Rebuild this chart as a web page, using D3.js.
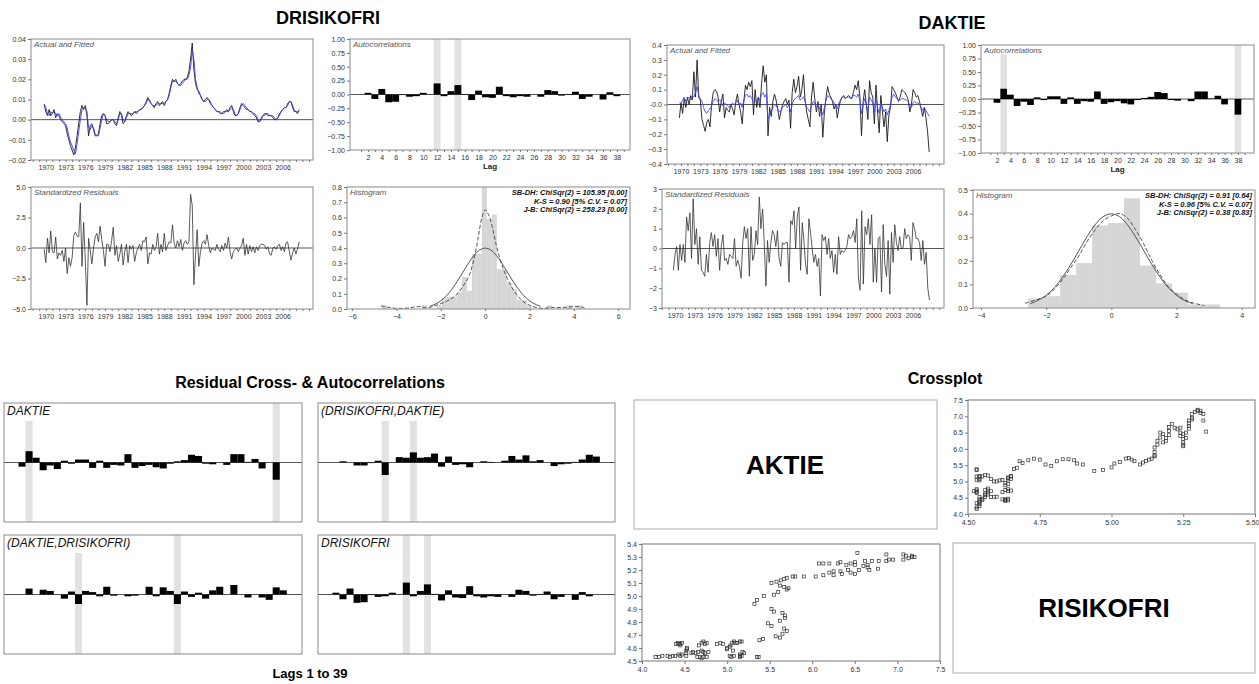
<!DOCTYPE html>
<html>
<head>
<meta charset="utf-8">
<script src="https://cdn.jsdelivr.net/npm/d3@7"></script>
<style>
  body { margin: 0; background: #fff; }
</style>
</head>
<body>
<svg width="1259" height="684"></svg>
<script>
// ---- data (quarterly, first obs 1969Q4) ----
const quarterStart = 1969.75;

const drisActual = [.0075,
  .004,.002,.005,.002, .003,.005,.001,.003, .002,.000,-.001,-.002, -.003,-.007,-.010,-.013,
  -.015,-.0175,-.014,-.008, -.002,.004,.007,.005, .007,.002,-.008,-.003, -.002,-.005,-.008,-.008,
  -.007,-.002,.002,.003, .002,-.002,-.002,-.001, .000,.000,-.002,-.003, .001,.004,.002,-.002,
  -.001,.002,.004,.003, .002,.003,.004,.003, .004,.005,.005,.006, .007,.009,.011,.009,
  .008,.007,.006,.008, .009,.007,.008,.009, .007,.009,.010,.013, .017,.020,.019,.020,
  .018,.017,.018,.019, .020,.020,.021,.024, .030,.038,.025,.018, .015,.014,.012,.010,
  .009,.010,.011,.010, .008,.007,.006,.005, .004,.004,.003,.003, .004,.004,.005,.004,
  .006,.007,.004,.002, .002,.003,.006,.008, .007,.006,.005,.005, .004,.004,.003,.002,
  .001,-.001,-.001,.001, .002,.003,.003,.002, .002,.002,.001,.000, .000,.001,.003,.004,
  .005,.006,.006,.008, .009,.009,.006,.004, .004,.003,.005];

const drisFitted = [.0078,
  .006,.003,.002,.004, .003,.004,.003,.002, .003,.001,.000,-.001, -.002,-.004,-.008,-.011,
  -.013,-.015,-.017,-.012, -.006,.000,.005,.006, .006,.004,-.004,-.005, -.003,-.004,-.007,-.008,
  -.008,-.004,.000,.003, .002,.000,-.001,-.001, .000,.000,-.001,-.002, .000,.003,.003,.000,
  -.001,.001,.003,.003, .003,.003,.004,.004, .004,.005,.005,.006, .007,.008,.010,.010,
  .008,.007,.007,.007, .008,.008,.008,.008, .008,.009,.010,.012, .016,.019,.019,.019,
  .018,.017,.017,.018, .019,.020,.020,.022, .026,.034,.030,.020, .016,.013,.012,.010,
  .009,.009,.010,.010, .009,.007,.006,.005, .004,.004,.004,.003, .003,.004,.004,.004,
  .005,.006,.005,.003, .002,.003,.005,.007, .008,.007,.006,.005, .004,.004,.003,.003,
  .002,.000,-.001,.000, .002,.002,.003,.003, .002,.002,.002,.001, .000,.001,.002,.004,
  .005,.006,.006,.007, .009,.009,.007,.005, .004,.004,.004];

const drisResid = [-0.1,
  -1.2,0.8,-0.4,1.4, -0.3,-0.4,0.9,-0.9, -0.4,-0.6,-0.2,-1.1, 0.0,-2.1,-0.8,-1.5,
  -0.8,1.0,1.3,1.0, 0.9,3.7,-1.5,2.1, -1.0,-4.7,0.8,-0.2, -1.3,0.0,0.9,1.2,
  0.5,1.8,0.7,-0.2, -1.5,0.3,0.3,-0.3, 0.6,1.7,-0.6,0.2, -1.1,-0.5,0.3,-1.4,
  -0.3,0.3,-1.2,0.2, -0.1,0.2,-1.1,-0.4, 0.0,0.3,-0.2,0.6, 0.5,0.9,-1.3,-0.4,
  -0.5,0.3,-0.2,0.1, 1.2,-0.5,0.3,-0.3, 1.2,-0.2,0.2,0.5, 0.4,1.9,0.4,0.0,
  0.6,0.1,0.7,-0.2, 0.4,0.6,0.3,0.5, 4.4,3.5,-3.0,-0.6, 1.5,-1.5,-0.3,0.4,
  0.6,0.3,1.1,0.2, -0.4,0.0,-0.1,-0.2, 0.3,-0.1,-0.3,0.2, -0.2,0.4,0.0,0.9,
  -0.3,-0.9,-0.3,-0.1, 0.0,-0.3,0.0,0.2, 0.8,-0.6,0.3,-0.5, 0.2,-0.3,0.1,-0.4,
  0.1,-0.2,0.2,0.3, 0.3,0.2,-0.1,0.1, -0.5,-0.6,0.0,0.1, -0.1,0.2,0.3,-0.2,
  0.1,-0.3,0.4,0.5, -0.3,-1.0,-0.4,0.0, -0.5,-0.1,0.5];

const daktieActual = [-0.09,
  0.01,-0.06,0.04,-0.02, 0.05,0.00,0.06,0.03, 0.22,0.05,0.30,0.05, 0.03,-0.10,-0.14,-0.18,
  -0.12,-0.10,-0.15,0.00, 0.08,0.10,0.09,0.05, -0.05,0.02,0.07,-0.09, -0.02,-0.04,-0.05,0.00,
  -0.03,-0.07,0.02,0.07, 0.00,-0.05,-0.13,0.02, 0.13,0.10,0.15,0.12, 0.16,-0.07,0.10,-0.02,
  0.05,-0.02,0.14,0.26, 0.15,0.20,-0.21,-0.02, -0.08,0.02,0.07,0.03, -0.03,-0.10,-0.05,0.00,
  0.02,0.04,0.00,0.03, -0.16,0.08,0.17,0.08, 0.12,0.19,0.05,0.10, 0.20,0.03,-0.05,-0.10,
  -0.15,0.05,0.15,0.04, -0.05,0.02,-0.08,0.00, -0.22,-0.05,0.05,0.12, 0.07,0.05,0.02,-0.03,
  0.00,-0.09,-0.02,0.03, 0.05,0.06,0.04,0.05, 0.06,0.05,0.04,0.08, 0.13,0.10,0.16,0.05,
  -0.21,0.02,0.10,0.00, -0.10,0.16,0.08,0.05, -0.13,0.13,-0.05,-0.19, 0.06,-0.05,-0.15,-0.05,
  -0.25,-0.07,-0.02,0.12, 0.10,0.08,0.05,0.02, 0.05,0.10,0.09,0.08, 0.06,0.03,-0.05,0.00,
  0.10,0.08,0.05,0.06, 0.02,-0.03,-0.08,-0.02, -0.09,-0.18,-0.32];

const daktieFitted = [0.01,
  0.01,0.03,0.05,0.02, 0.04,0.05,0.03,0.06, 0.05,0.08,0.12,0.06, 0.04,0.02,-0.02,-0.05,
  -0.06,-0.04,-0.03,-0.01, 0.02,0.04,0.03,0.02, 0.03,0.02,-0.01,0.01, 0.00,-0.01,-0.02,0.00,
  0.01,0.00,0.01,0.03, 0.00,0.01,-0.02,0.03, 0.06,0.07,0.05,0.06, 0.04,0.01,0.03,0.02,
  0.05,0.03,0.07,0.08, 0.05,0.07,-0.10,-0.07, -0.05,-0.02,-0.01,0.00, -0.03,-0.05,-0.04,-0.02,
  -0.01,0.00,-0.02,0.00, -0.05,0.00,0.03,0.04, 0.05,0.06,0.03,0.04, 0.05,0.02,-0.02,-0.03,
  -0.05,-0.01,0.02,0.01, -0.02,0.00,-0.03,-0.04, -0.07,-0.02,0.03,0.06, 0.05,0.04,0.03,0.01,
  0.00,-0.03,0.01,0.03, 0.05,0.05,0.04,0.05, 0.05,0.04,0.05,0.06, 0.06,0.05,0.07,0.03,
  -0.06,-0.01,0.04,0.00, -0.04,0.05,0.03,0.01, -0.05,0.04,-0.02,-0.06, 0.01,-0.02,-0.05,-0.03,
  -0.07,-0.04,0.00,0.05, 0.07,0.05,0.04,0.03, 0.03,0.04,0.04,0.03, 0.03,0.02,-0.01,-0.02,
  0.01,0.02,0.01,0.01, 0.00,-0.02,-0.04,-0.02, -0.04,-0.06,-0.08];

const daktieResid = [-1.1,
  -0.3,0.1,-1.1,0.2, -0.6,0.2,-0.7,1.6, 0.9,1.8,-0.5,2.5, 0.2,1.0,-0.8,0.6,
  -1.1,-1.2,-1.4,-0.3, -1.2,0.3,0.8,0.1, 0.7,-0.4,0.5,-1.1, 0.1,0.7,-0.6,-0.5,
  -0.8,-0.3,-0.4,-0.5, 0.5,-0.9,-0.6,-0.9, -1.5,0.3,1.1,0.5, 1.0,-1.4,1.1,-0.6,
  -0.3,0.9,0.2,2.6, 1.0,2.0,0.3,-1.9, 0.4,-0.7,0.3,0.9, 0.7,0.1,0.9,-0.5,
  -0.9,0.3,0.2,0.3, 0.3,-1.7,1.4,1.2, 1.9,0.0,1.6,2.1, -1.1,1.3,0.4,-0.8,
  -1.3,1.5,0.8,0.0, -0.7,-0.3,-0.9,-0.5, -2.4,0.7,0.4,0.6, -0.3,0.5,-0.5,-0.1,
  -1.2,-0.3,-1.3,0.6, -0.3,-0.1,-0.2,-0.1, 0.1,0.7,0.5,0.6, 0.9,0.3,1.5,-1.5,
  -2.1,1.9,-1.8,1.1, 0.7,1.5,0.2,1.7, -1.7,0.0,-1.7,0.5, 0.6,-2.2,1.2,-0.8,
  -1.4,0.4,-2.3,0.8, -0.7,1.2,0.3,-0.1, 0.6,0.0,0.0,1.0, 0.5,0.7,0.6,-0.6,
  1.3,1.0,0.5,0.5, 0.3,-0.6,0.4,-0.8, -0.2,-2.0,-2.6];

// residual autocorrelations, lags 2..38
const acfLags = d3.range(2, 39);
const drisAcf = [0.03,-0.08,0.10,-0.14,-0.13,-0.01,-0.04,-0.03,0.03,0.00,0.20,-0.03,0.06,0.17,0.01,
  -0.10,0.07,-0.05,-0.06,0.14,-0.03,-0.05,-0.03,-0.04,0.00,-0.04,0.08,0.06,-0.02,0.01,0.05,
  -0.08,-0.04,0.00,-0.09,0.04,-0.03];
const daktieAcf = [-0.07,0.19,0.08,-0.13,-0.05,-0.11,0.03,-0.02,0.05,0.05,-0.09,0.03,-0.09,-0.04,-0.05,
  0.14,-0.09,-0.06,-0.04,-0.08,-0.10,-0.02,0.02,0.04,0.13,0.11,-0.02,-0.03,0.00,-0.04,0.14,
  0.14,0.01,0.06,-0.10,0.00,-0.29];
const drisAcfBands = [12, 15];
const daktieAcfBands = [3, 38];

// cross-correlations, lags 1..39
const crossLags = d3.range(1, 40);
const crossDrisDaktie = [0,0,0.02,0.00,-0.05,-0.05,-0.01,0.03,-0.21,0.00,0.09,0.08,0.17,0.08,0.09,
  0.15,-0.07,0.10,-0.04,-0.03,-0.08,0.00,0.02,0.01,0.00,0.03,0.11,0.05,0.12,0.02,0.04,0.00,
  -0.06,-0.03,-0.02,0.01,0.05,0.13,0.10];
const crossDaktieDris = [0,0,0.10,0.00,0.08,0.06,0.00,-0.07,0.05,-0.16,0.06,0.04,-0.03,0.13,-0.02,
  0.00,-0.03,-0.02,0.00,0.13,-0.03,0.12,0.06,-0.16,0.05,-0.04,0.03,-0.07,0.07,0.13,0.00,0.16,
  0.00,-0.05,0.00,-0.05,-0.09,0.12,0.07];
const crossDrisDaktieBands = [9, 13];
const crossDaktieDrisBands = [10, 24];

// histograms of standardized residuals
const drisBinStart = -4.65, drisBinWidth = 0.225;
const drisHist = [.025,0,0,0,0,0,0,0,.025,0,0,.025,.07,.08,.08,.11,.21,.12,.36,.36,.80,.59,.62,.26,
  .26,.17,.13,.06,.06,.02,0,0,0,.025,0,0,0,.025,0,.025];
const daktieBinStart = -2.55, daktieBinWidth = 0.49;
const daktieHist = [0.04,0.05,0.14,0.19,0.35,0.36,0.465,0.18,0.105,0.065,0.015,0.015];

const normalX = [-2.5,-2.25,-2,-1.75,-1.5,-1.25,-1,-0.75,-0.5,-0.25,0,0.25,0.5,0.75,1,1.25,1.5,1.75,2,2.25,2.5];
const normalY = [.018,.032,.054,.086,.130,.183,.242,.301,.352,.387,.399,.387,.352,.301,.242,.183,.130,.086,.054,.032,.018];

const drisKdeX = [-4.7,-4.4,-4.0,-3.5,-3.0,-2.6,-2.3,-2.0,-1.75,-1.5,-1.25,-1.0,-0.75,-0.5,-0.3,-0.15,0.0,0.15,0.3,0.45,0.6,0.8,1.0,1.25,1.5,1.75,2.0,2.3,2.6,3.0,3.5,4.0,4.3,4.5];
const drisKdeY = [0.02,0.012,0.004,0.006,0.016,0.008,0.02,0.035,0.05,0.07,0.1,0.15,0.21,0.33,0.48,0.6,0.65,0.62,0.55,0.45,0.36,0.27,0.2,0.13,0.08,0.045,0.025,0.01,0.004,0.01,0.01,0.015,0.015,0.006];
const daktieKdeX = [-2.65,-2.3,-2.0,-1.75,-1.5,-1.25,-1.0,-0.75,-0.5,-0.25,0,0.25,0.5,0.75,1.0,1.25,1.5,1.75,2.0,2.25,2.5,2.85];
const daktieKdeY = [0.02,0.035,0.05,0.08,0.12,0.17,0.22,0.28,0.33,0.37,0.39,0.40,0.38,0.33,0.27,0.2,0.14,0.09,0.06,0.035,0.022,0.01];

const drisStats = ["SB-DH: ChiSqr(2) = 105.95 [0.00]", "K-S = 0.90 [5% C.V. = 0.07]", "J-B: ChiSqr(2) = 258.23 [0.00]"];
const daktieStats = ["SB-DH: ChiSqr(2) = 0.91 [0.64]", "K-S = 0.96 [5% C.V. = 0.07]", "J-B: ChiSqr(2) = 0.38 [0.83]"];

// crossplot of levels
const xpAktie = [4.24,4.36,4.39,4.43,4.45,4.47,4.52,4.52,4.52,4.53,4.53,4.16,4.20,4.30,4.33,
  4.40,4.42,4.43,4.45,4.47,4.45,
  4.58,4.60,4.63,4.65,4.66,4.68,4.70,4.72,4.70,4.72,4.74,4.76,4.78,
  4.67,4.70,4.74,4.76,4.72,
  4.88,4.92,4.95,5.00,5.00,5.03,5.04,5.06,5.08,5.10,5.12,5.15,5.17,
  5.03,5.05,5.08,5.07,5.15,5.15,5.15,5.18,5.20,5.17,
  5.35,5.37,5.38,5.42,
  5.52,5.55,5.48,5.52,5.62,5.65,5.68,5.68,5.57,5.62,5.65,5.67,5.70,
  5.32,5.35,5.43,5.52,5.55,5.58,5.60,5.62,5.63,5.67,5.67,5.70,5.72,5.70,5.77,5.80,5.90,6.04,6.13,
  6.08,6.13,6.20,6.20,6.25,6.25,6.30,6.33,6.33,6.35,6.40,6.42,6.45,6.45,6.50,6.50,6.53,6.50,6.55,
  6.60,6.62,6.65,6.65,6.67,6.70,6.77,6.78,6.87,6.87,6.90,6.95,7.07,7.07,7.10,7.13,7.17,7.17,7.20];
const xpRisk = [4.54,4.54,4.54,4.55,4.54,4.55,4.54,4.56,4.58,4.60,4.59,4.53,4.53,4.54,4.53,
  4.63,4.64,4.63,4.63,4.64,4.62,
  4.56,4.57,4.56,4.53,4.57,4.53,4.52,4.53,4.58,4.57,4.56,4.53,4.57,
  4.62,4.64,4.63,4.64,4.65,
  4.63,4.64,4.63,4.60,4.59,4.61,4.62,4.64,4.65,4.64,4.64,4.65,4.65,
  4.54,4.53,4.54,4.58,4.53,4.54,4.55,4.57,4.56,4.54,
  4.53,4.53,4.66,4.67,
  4.90,4.88,4.79,4.77,4.81,4.87,4.85,4.83,4.69,4.68,4.71,4.75,4.73,
  4.94,4.97,5.00,5.10,5.01,5.11,5.03,5.08,5.12,5.07,5.13,5.05,5.06,5.14,5.15,5.15,5.15,5.15,5.16,
  5.25,5.25,5.18,5.25,5.19,5.16,5.25,5.26,5.19,5.17,5.24,5.20,5.25,5.18,5.24,5.17,5.33,5.26,5.20,
  5.23,5.27,5.22,5.24,5.20,5.27,5.21,5.27,5.32,5.27,5.28,5.28,5.32,5.28,5.31,5.29,5.30,5.31,5.30];

// ---- drawing ----
const FONT = '"Liberation Sans", Arial, Helvetica, sans-serif';
const svg = d3.select("svg").attr("font-family", FONT);
const quarters = drisActual.map((d, i) => quarterStart + i / 4);

function styleAxis(g) {
  g.attr("font-size", 7).attr("font-family", FONT);
  g.select(".domain").remove();
  g.selectAll("line").attr("stroke", "#777");
  g.selectAll("text").attr("fill", "#333");
}

function frame(p, color) {
  svg.append("rect")
    .attr("x", p.x0).attr("y", p.y0)
    .attr("width", p.x1 - p.x0).attr("height", p.y1 - p.y0)
    .attr("fill", "none").attr("stroke", color || "#8a8a8a").attr("stroke-width", 1);
}

// label with a white background, so bands stop underneath it
function panelLabel(x, y, str, size, bgBottom) {
  const t = svg.append("text")
    .attr("x", x).attr("y", y)
    .attr("font-size", size).attr("font-style", "italic")
    .attr("fill", size > 10 ? "#111" : "#555")
    .text(str);
  const b = t.node().getBBox();
  svg.insert("rect", () => t.node())
    .attr("x", b.x - 1).attr("y", b.y - 1)
    .attr("width", b.width + 3).attr("height", bgBottom - b.y + 1)
    .attr("fill", "#fff");
}

function yAxis(p, y, ticks, fmt) {
  svg.append("g")
    .attr("transform", `translate(${p.x0},0)`)
    .call(d3.axisLeft(y).tickValues(ticks).tickSize(3).tickPadding(2).tickFormat(fmt))
    .call(styleAxis);
}

function timePanel(p) {
  const x = d3.scaleLinear().domain(p.xd).range([p.x0, p.x1]);
  const y = d3.scaleLinear().domain(p.yd).range([p.y1, p.y0]);
  panelLabel(p.x0 + 3, p.y0 + 8, p.title, 8, p.y0 + 9);
  svg.append("line")
    .attr("x1", p.x0).attr("x2", p.x1).attr("y1", y(0)).attr("y2", y(0))
    .attr("stroke", "#555");
  const line = d3.line().x((d, i) => x(quarters[i])).y(d => y(d));
  p.series.forEach(s => {
    svg.append("path").datum(s.values)
      .attr("d", line).attr("fill", "none")
      .attr("stroke", s.color).attr("stroke-width", s.width || 0.9);
  });
  frame(p);
  yAxis(p, y, p.yTicks, p.yFmt);
  svg.append("g")
    .attr("transform", `translate(0,${p.y1})`)
    .call(d3.axisBottom(x).tickValues(d3.range(1968, 2011)).tickSize(2).tickPadding(3)
      .tickFormat(d => (d >= 1970 && d <= 2006 && (d - 1970) % 3 === 0) ? d : ""))
    .call(styleAxis);
}

function barPanel(p) {
  const x = d3.scaleLinear().domain(p.xd).range([p.x0, p.x1]);
  const y = d3.scaleLinear().domain([-1, 1]).range([p.y1, p.y0]);
  svg.append("g").selectAll("rect").data(p.bands).join("rect")
    .attr("x", d => x(d - 0.5)).attr("width", d => x(d + 0.5) - x(d - 0.5))
    .attr("y", p.y0).attr("height", p.y1 - p.y0)
    .attr("fill", "#e2e2e2");
  panelLabel(p.x0 + 3, p.y0 + p.labelSize, p.title, p.labelSize, p.y0 + p.labelSize + (p.axes ? 1 : 6));
  svg.append("line")
    .attr("x1", p.x0).attr("x2", p.x1).attr("y1", y(0)).attr("y2", y(0))
    .attr("stroke", "#555");
  svg.append("g").selectAll("rect").data(p.values).join("rect")
    .attr("x", (d, i) => x(p.lags[i] - 0.5))
    .attr("width", (d, i) => x(p.lags[i] + 0.5) - x(p.lags[i] - 0.5))
    .attr("y", d => y(Math.max(0, d)))
    .attr("height", d => Math.abs(y(d) - y(0)))
    .attr("fill", "#000");
  frame(p);
  if (p.axes) {
    yAxis(p, y, d3.range(-1, 1.01, 0.25), d3.format(".2f"));
    svg.append("g")
      .attr("transform", `translate(0,${p.y1})`)
      .call(d3.axisBottom(x).tickValues(d3.range(1, 40)).tickSize(2).tickPadding(3)
        .tickFormat(d => d % 2 === 0 && d <= 38 ? d : ""))
      .call(styleAxis);
    svg.append("text")
      .attr("x", (p.x0 + p.x1) / 2).attr("y", p.y1 + 19)
      .attr("text-anchor", "middle").attr("font-size", 8).attr("font-weight", "bold")
      .attr("fill", "#222").text("Lag");
  }
}

function histPanel(p) {
  const x = d3.scaleLinear().domain(p.xd).range([p.x0, p.x1]);
  const y = d3.scaleLinear().domain(p.yd).range([p.y1, p.y0]);
  svg.append("g").selectAll("rect").data(p.hist).join("rect")
    .attr("x", (d, i) => x(p.binStart + i * p.binWidth))
    .attr("width", (d, i) => x(p.binStart + (i + 1) * p.binWidth) - x(p.binStart + i * p.binWidth))
    .attr("y", d => y(d)).attr("height", d => y(0) - y(d))
    .attr("fill", "#d6d6d6");
  const line = d3.line().x(d => x(d[0])).y(d => y(d[1]));
  svg.append("path").datum(normalX.map((v, i) => [v, normalY[i]]))
    .attr("d", line.curve(d3.curveCatmullRom)).attr("fill", "none")
    .attr("stroke", "#444").attr("stroke-width", 0.9);
  svg.append("path").datum(p.kdeX.map((v, i) => [v, p.kdeY[i]]))
    .attr("d", line.curve(d3.curveCatmullRom)).attr("fill", "none")
    .attr("stroke", "#444").attr("stroke-width", 0.9).attr("stroke-dasharray", "4,2");
  panelLabel(p.x0 + 3, p.y0 + 8, "Histogram", 8, p.y0 + 9);
  svg.append("g").selectAll("text").data(p.stats).join("text")
    .attr("x", p.x1 - 3).attr("y", (d, i) => p.y0 + 8 + i * 8.5)
    .attr("text-anchor", "end").attr("font-size", 7.5)
    .attr("font-weight", "bold").attr("font-style", "italic").attr("fill", "#111")
    .text(d => d);
  frame(p);
  yAxis(p, y, p.yTicks, d3.format(".1f"));
  svg.append("g")
    .attr("transform", `translate(0,${p.y1})`)
    .call(d3.axisBottom(x).tickValues(p.xTicks).tickSize(2).tickPadding(3).tickFormat(d3.format("d")))
    .call(styleAxis);
}

function scatterPanel(p) {
  const x = d3.scaleLinear().domain(p.xd).range([p.x0, p.x1]);
  const y = d3.scaleLinear().domain(p.yd).range([p.y1, p.y0]);
  svg.append("g").selectAll("rect").data(p.xs).join("rect")
    .attr("x", d => x(d) - 1.5)
    .attr("y", (d, i) => y(p.ys[i]) - 1.5)
    .attr("width", 3).attr("height", 3)
    .attr("fill", "none").attr("stroke", "#333").attr("stroke-width", 0.7);
  frame(p, "#777");
  yAxis(p, y, p.yTicks, p.yFmt);
  const gx = svg.append("g")
    .attr("transform", `translate(0,${p.y1})`)
    .call(d3.axisBottom(x).tickValues(p.xTicks).tickSize(3).tickPadding(3).tickFormat(p.xFmt))
    .call(styleAxis);
  // keep the last label inside the page
  if (p.lastLabelEnd) gx.selectAll(".tick:last-of-type text").attr("text-anchor", "end").attr("dx", 4);
}

function title(x, y, str, size) {
  svg.append("text").attr("x", x).attr("y", y)
    .attr("text-anchor", "middle").attr("font-size", size).attr("font-weight", "bold")
    .attr("fill", "#000").text(str);
}

// --- DRISIKOFRI block ---
title(328, 24, "DRISIKOFRI", 18);
timePanel({
  x0: 31, x1: 313, y0: 39, y1: 160, xd: [1967.75, 2010.6], yd: [-0.02, 0.04],
  title: "Actual and Fitted", yTicks: d3.range(-0.02, 0.041, 0.01), yFmt: d3.format(".2f"),
  series: [{ values: drisActual, color: "#1a1a1a" }, { values: drisFitted, color: "#3a3aff" }]
});
barPanel({
  x0: 350, x1: 630, y0: 39, y1: 150, xd: [-0.6, 39.9], title: "Autocorrelations",
  labelSize: 8, axes: true, lags: acfLags, values: drisAcf, bands: drisAcfBands
});
timePanel({
  x0: 31, x1: 313, y0: 187, y1: 309, xd: [1967.75, 2010.6], yd: [-5, 5],
  title: "Standardized Residuals", yTicks: [-5, -2.5, 0, 2.5, 5], yFmt: d3.format(".1f"),
  series: [{ values: drisResid, color: "#333", width: 0.8 }]
});
histPanel({
  x0: 347, x1: 630, y0: 187, y1: 309, xd: [-6.23, 6.53], yd: [0, 0.8],
  yTicks: d3.range(0, 0.81, 0.1), xTicks: [-6, -4, -2, 0, 2, 4, 6],
  hist: drisHist, binStart: drisBinStart, binWidth: drisBinWidth,
  kdeX: drisKdeX, kdeY: drisKdeY, stats: drisStats
});

// --- DAKTIE block ---
title(952, 29, "DAKTIE", 18);
timePanel({
  x0: 667, x1: 944, y0: 45, y1: 164, xd: [1967.83, 2010.8], yd: [-0.4, 0.4],
  title: "Actual and Fitted", yTicks: d3.range(-4, 5).map(d => d / 10),
  yFmt: d => d === 0 ? "-0.0" : d3.format(".1f")(d),
  series: [{ values: daktieActual, color: "#1a1a1a" }, { values: daktieFitted, color: "#4545ff" }]
});
barPanel({
  x0: 981, x1: 1254, y0: 45, y1: 153, xd: [-0.39, 40.4], title: "Autocorrelations",
  labelSize: 8, axes: true, lags: acfLags, values: daktieAcf, bands: daktieAcfBands
});
timePanel({
  x0: 662, x1: 944, y0: 189, y1: 308, xd: [1968.03, 2010.7], yd: [-3, 3],
  title: "Standardized Residuals", yTicks: d3.range(-3, 4), yFmt: d3.format("d"),
  series: [{ values: daktieResid, color: "#333", width: 0.8 }]
});
histPanel({
  x0: 973, x1: 1255, y0: 190, y1: 308, xd: [-4.245, 4.41], yd: [0, 0.5],
  yTicks: d3.range(0, 0.51, 0.1), xTicks: [-4, -2, 0, 2, 4],
  hist: daktieHist, binStart: daktieBinStart, binWidth: daktieBinWidth,
  kdeX: daktieKdeX, kdeY: daktieKdeY, stats: daktieStats
});

// --- residual cross- and autocorrelations ---
title(310, 388, "Residual Cross- & Autocorrelations", 16);
const crossDomain = [-0.55, 41.65];
barPanel({ x0: 4, x1: 302, y0: 403, y1: 522, xd: crossDomain, title: "DAKTIE", labelSize: 12,
  lags: acfLags, values: daktieAcf, bands: daktieAcfBands });
barPanel({ x0: 318, x1: 615, y0: 403, y1: 522, xd: crossDomain, title: "(DRISIKOFRI,DAKTIE)", labelSize: 12,
  lags: crossLags, values: crossDrisDaktie, bands: crossDrisDaktieBands });
barPanel({ x0: 4, x1: 302, y0: 535, y1: 654, xd: crossDomain, title: "(DAKTIE,DRISIKOFRI)", labelSize: 12,
  lags: crossLags, values: crossDaktieDris, bands: crossDaktieDrisBands });
barPanel({ x0: 318, x1: 615, y0: 535, y1: 654, xd: crossDomain, title: "DRISIKOFRI", labelSize: 12,
  lags: acfLags, values: drisAcf, bands: drisAcfBands });
title(310, 678, "Lags 1 to 39", 13);

// --- crossplot matrix ---
title(945, 384, "Crossplot", 16);
frame({ x0: 634, x1: 937, y0: 400, y1: 529 }, "#aaa");
title(785, 474, "AKTIE", 26);
frame({ x0: 953, x1: 1255, y0: 543, y1: 673 }, "#aaa");
title(1104, 617, "RISIKOFRI", 26);
scatterPanel({
  x0: 968, x1: 1255, y0: 400, y1: 514, xd: [4.5, 5.5], yd: [4.0, 7.5],
  xs: xpRisk, ys: xpAktie, lastLabelEnd: true,
  xTicks: [4.5, 4.75, 5.0, 5.25, 5.5], xFmt: d3.format(".2f"),
  yTicks: d3.range(4.0, 7.51, 0.5), yFmt: d3.format(".1f")
});
scatterPanel({
  x0: 642, x1: 940, y0: 544, y1: 661, xd: [4.0, 7.5], yd: [4.5, 5.4],
  xs: xpAktie, ys: xpRisk,
  xTicks: d3.range(4.0, 7.51, 0.5), xFmt: d3.format(".1f"),
  yTicks: d3.range(4.5, 5.41, 0.1), yFmt: d3.format(".1f")
});
</script>
</body>
</html>
